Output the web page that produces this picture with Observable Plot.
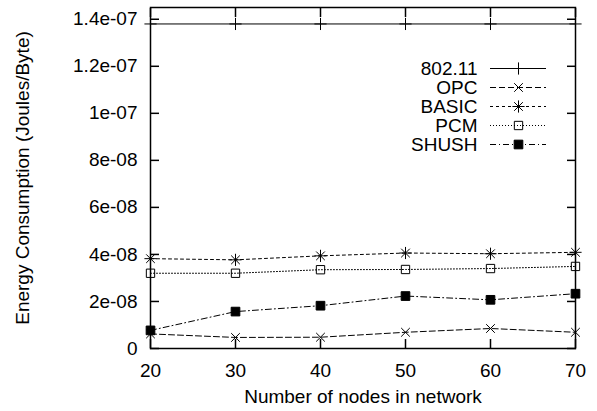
<!DOCTYPE html>
<html>
<head>
<meta charset="utf-8">
<script src="https://cdn.jsdelivr.net/npm/d3@7"></script>
<script src="https://cdn.jsdelivr.net/npm/@observablehq/plot@0.6"></script>
<style>
  html, body { margin: 0; padding: 0; background: #fff; }
  #chart { position: relative; width: 597px; height: 411px; }
  #chart svg { position: absolute; left: 0; top: 0; }
</style>
</head>
<body>
<div id="chart"></div>
<script>
// ---- data ----
const nodes = [20, 30, 40, 50, 60, 70];
const seriesNames = ["802.11", "OPC", "BASIC", "PCM", "SHUSH"];
const v80211 = [1.38e-7, 1.38e-7, 1.38e-7, 1.38e-7, 1.38e-7, 1.38e-7];
const vOPC   = [6.2e-9, 4.7e-9, 4.8e-9, 6.9e-9, 8.5e-9, 6.9e-9];
const vBASIC = [3.82e-8, 3.77e-8, 3.94e-8, 4.06e-8, 4.03e-8, 4.09e-8];
const vPCM   = [3.2e-8, 3.2e-8, 3.35e-8, 3.36e-8, 3.4e-8, 3.49e-8];
const vSHUSH = [7.7e-9, 1.57e-8, 1.82e-8, 2.23e-8, 2.07e-8, 2.33e-8];
const xTicks = [20, 30, 40, 50, 60, 70];
const yTicks = [0, 2e-8, 4e-8, 6e-8, 8e-8, 1e-7, 1.2e-7, 1.4e-7];
const yTickLabels = ["0", "2e-08", "4e-08", "6e-08", "8e-08", "1e-07", "1.2e-07", "1.4e-07"];
const xLabel = "Number of nodes in network";
const yLabel = "Energy Consumption (Joules/Byte)";

// ---- styles per series ----
const values = [v80211, vOPC, vBASIC, vPCM, vSHUSH];
const styles = {
  "802.11": {dash: null, symbols: ["plus"], fill: "none", r: 4},
  "OPC":    {dash: "6,3", symbols: ["times"], fill: "none", r: 4},
  "BASIC":  {dash: "3,3", symbols: ["plus", "times"], fill: "none", r: 4},
  "PCM":    {dash: "1,2", symbols: ["square"], fill: "none", r: 4.7},
  "SHUSH":  {dash: "6,3,1,3", symbols: ["square"], fill: "black", r: 4.9}
};

const rows = [];
seriesNames.forEach((name, si) => {
  nodes.forEach((n, i) => rows.push({series: name, x: n, y: values[si][i]}));
});

const font = "'Liberation Sans', Arial, Helvetica, sans-serif";
const fs = "19px";

const dataMarks = [];
for (const name of seriesNames) {
  const d = rows.filter(r => r.series === name);
  const st = styles[name];
  dataMarks.push(Plot.line(d, {x: "x", y: "y", stroke: "black", strokeWidth: 1, strokeDasharray: st.dash}));
  for (const sym of st.symbols) {
    dataMarks.push(Plot.dot(d, {x: "x", y: "y", symbol: () => sym, r: st.r,
      stroke: "black", strokeWidth: 1, fill: st.fill}));
  }
}

const main = Plot.plot({
  width: 597,
  height: 411,
  marginLeft: 150,
  marginRight: 22,
  marginTop: 7,
  marginBottom: 63,
  style: {fontFamily: font, fontSize: fs, background: "white", color: "black"},
  symbol: {type: "identity"},
  x: {domain: [20, 70]},
  y: {domain: [0, 1.45e-7]},
  marks: [
    ...dataMarks,
    Plot.axisY({anchor: "left", ticks: yTicks, tickSize: -9, tickPadding: 22, strokeWidth: 1.5,
      tickFormat: (d, i) => yTickLabels[i], label: null}),
    Plot.axisY({anchor: "right", ticks: yTicks, tickSize: -9, strokeWidth: 1.5, tickFormat: () => "", label: null}),
    Plot.axisX({anchor: "bottom", ticks: xTicks, tickSize: -9, tickPadding: 24, strokeWidth: 1.5,
      tickFormat: d => String(d), label: null}),
    Plot.axisX({anchor: "top", ticks: xTicks, tickSize: -9, strokeWidth: 1.5, tickFormat: () => "", label: null}),
    Plot.frame({stroke: "black", strokeWidth: 1.5}),
    Plot.text([xLabel], {text: d => d, frameAnchor: "bottom", textAnchor: "middle", lineAnchor: "top", dy: 41, fill: "black"}),
    Plot.text([yLabel], {text: d => d, frameAnchor: "left", textAnchor: "middle", rotate: -90, lineAnchor: "top", dx: -135, fill: "black"})
  ]
});

// ---- legend (overlay plot with its own scales) ----
const legendMarks = [];
for (const name of seriesNames) {
  const st = styles[name];
  legendMarks.push(Plot.ruleY([name], {y: d => d, x1: 0, x2: 1, stroke: "black", strokeWidth: 1, strokeDasharray: st.dash}));
  for (const sym of st.symbols) {
    legendMarks.push(Plot.dot([name], {x: () => 0.5, y: d => d, symbol: () => sym, r: st.r,
      stroke: "black", strokeWidth: 1, fill: st.fill}));
  }
}
legendMarks.push(Plot.text(seriesNames, {x: () => 0, y: d => d, text: d => d, textAnchor: "end", dx: -13, fill: "black"}));

const legend = Plot.plot({
  width: 597,
  height: 411,
  margin: 0,
  style: {fontFamily: font, fontSize: fs, background: "transparent", color: "black"},
  symbol: {type: "identity"},
  x: {domain: [0, 1], range: [490, 546], axis: null},
  y: {type: "point", domain: seriesNames, range: [67, 145.5], padding: 0, axis: null},
  marks: legendMarks
});

const root = document.getElementById("chart");
root.appendChild(main);
root.appendChild(legend);
</script>
</body>
</html>
